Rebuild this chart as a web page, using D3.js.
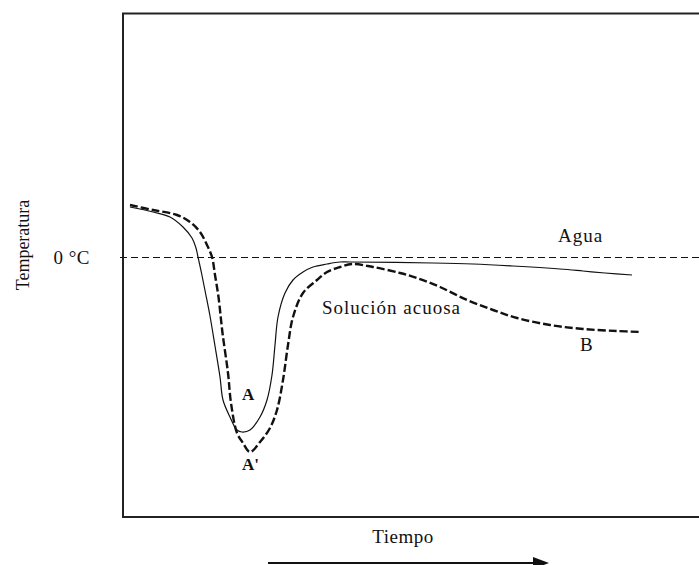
<!DOCTYPE html>
<html>
<head>
<meta charset="utf-8">
<script src="https://cdn.jsdelivr.net/npm/d3@7"></script>
<style>
  body { margin: 0; background: #fff; }
  svg text { font-family: "Liberation Serif", "DejaVu Serif", serif; fill: #111; }
</style>
</head>
<body>
<svg width="699" height="565"></svg>
<script>
// time in arbitrary units, temperature in arbitrary units (0 = 0 °C)
const aguaTime = [1.4, 6.0, 9.4, 12.0, 13.8, 14.6, 15.0, 15.7, 16.5, 17.4, 18.4, 19.4, 20.0, 21.4, 22.8, 23.8,
    25.4, 27.4, 28.8, 29.8, 30.4, 31.0, 32.4, 34.0, 36.0, 38.0, 40.8, 43.4, 45.4, 62.0, 70.0, 78.0, 87.4, 92.0, 96.4, 101.8];
const aguaTemp = [5.0, 4.5, 4.0, 3.0, 1.9, 0.9, 0.0, -1.6, -3.6, -5.9, -8.9, -12.0, -14.3, -16.0, -17.3, -17.5,
    -17.3, -16.0, -14.3, -11.8, -8.8, -6.0, -3.6, -2.3, -1.5, -1.0, -0.7, -0.5, -0.5, -0.6, -0.7, -0.9, -1.2, -1.4, -1.6, -1.8];

const solTime = [1.4, 6.0, 10.8, 13.4, 15.4, 16.8, 17.8, 18.4, 19.1, 19.9, 21.0, 21.6, 22.8, 24.0, 25.4,
    27.4, 29.4, 30.8, 32.0, 33.0, 34.0, 36.0, 38.8, 40.8, 43.4, 45.8, 50.0, 55.4, 58.8, 63.4, 68.8, 74.0, 78.8, 85.4, 92.0, 98.8, 103.6];
const solTemp = [5.2, 4.7, 4.2, 3.5, 2.5, 1.2, 0.0, -1.8, -4.0, -7.6, -11.6, -14.6, -17.6, -18.6, -19.5,
    -18.5, -17.1, -15.3, -12.3, -8.8, -6.0, -3.6, -2.3, -1.5, -1.0, -0.7, -1.0, -1.6, -2.1, -3.0, -4.3, -5.3, -6.1, -6.8, -7.2, -7.4, -7.5];

const yTicks = [0];
const yTickLabels = ['0 °C'];

const labelX = 'Tiempo';
const labelY = 'Temperatura';

const width = 699, height = 565;
const svg = d3.select('svg');

const x = d3.scaleLinear().domain([0, 115.2]).range([123, 699]);
const y = d3.scaleLinear().domain([-26, 24.35]).range([517, 13.5]);

const aguaData = aguaTime.map((t, i) => ({t: t, v: aguaTemp[i]}));
const solData = solTime.map((t, i) => ({t: t, v: solTemp[i]}));

// frame (open on the right, cut by the picture edge)
svg.append('path')
    .attr('d', 'M' + width + ',' + y(24.35) + 'H' + x(0) + 'V' + y(-26) + 'H' + width)
    .attr('fill', 'none')
    .attr('stroke', '#222')
    .attr('stroke-width', 2);

// zero line
svg.append('line')
    .attr('x1', x(0) - 3).attr('x2', width)
    .attr('y1', y(0) + 0.5).attr('y2', y(0) + 0.5)
    .attr('stroke', '#111')
    .attr('stroke-width', 1)
    .attr('stroke-dasharray', '7,4');

// y axis (only the 0 °C tick)
var yAxis = d3.axisLeft(y)
    .tickValues(yTicks)
    .tickFormat((d, i) => yTickLabels[i])
    .tickSize(0)
    .tickPadding(33);

var yAxisG = svg.append('g')
    .attr('transform', 'translate(' + x(0) + ',0)')
    .call(yAxis);
yAxisG.select('.domain').remove();
yAxisG.selectAll('text')
    .style('font-family', '"Liberation Serif", serif')
    .style('font-size', '19px')
    .style('letter-spacing', '0.5px')
    .attr('fill', '#111');

var line = d3.line()
    .x(d => x(d.t))
    .y(d => y(d.v))
    .curve(d3.curveCatmullRom.alpha(0.5));

// water curve
svg.append('path')
    .datum(aguaData)
    .attr('d', line)
    .attr('fill', 'none')
    .attr('stroke', '#111')
    .attr('stroke-width', 1.2);

// aqueous solution curve
svg.append('path')
    .datum(solData)
    .attr('d', line)
    .attr('fill', 'none')
    .attr('stroke', '#111')
    .attr('stroke-width', 2.4)
    .attr('stroke-dasharray', '8,3');

// annotations
const notes = [
    {text: 'Agua', t: 87.0, v: 1.5, size: 19, weight: 'normal'},
    {text: 'Solución acuosa', t: 39.8, v: -5.7, size: 19, weight: 'normal'},
    {text: 'B', t: 91.4, v: -9.4, size: 19, weight: 'normal'},
    {text: 'A', t: 23.8, v: -14.3, size: 17, weight: 'bold'},
    {text: "A'", t: 23.8, v: -21.3, size: 17, weight: 'bold'}
];
svg.selectAll('.note')
    .data(notes)
    .enter()
    .append('text')
    .attr('class', 'note')
    .attr('x', d => x(d.t))
    .attr('y', d => y(d.v))
    .style('font-size', d => d.size + 'px')
    .style('font-weight', d => d.weight)
    .style('letter-spacing', d => d.weight === 'normal' ? '1px' : '0px')
    .text(d => d.text);

// axis titles
svg.append('text')
    .attr('x', 403)
    .attr('y', 543)
    .attr('text-anchor', 'middle')
    .style('font-size', '19px')
    .style('letter-spacing', '0.5px')
    .text(labelX);

svg.append('text')
    .attr('transform', 'translate(29,245) rotate(-90)')
    .attr('text-anchor', 'middle')
    .style('font-size', '18px')
    .text(labelY);

// time arrow
svg.append('line')
    .attr('x1', 268).attr('x2', 540)
    .attr('y1', 563).attr('y2', 563)
    .attr('stroke', '#111')
    .attr('stroke-width', 2);

svg.append('path')
    .attr('d', 'M533,557L549,563L533,569Z')
    .attr('fill', '#111');
</script>
</body>
</html>
